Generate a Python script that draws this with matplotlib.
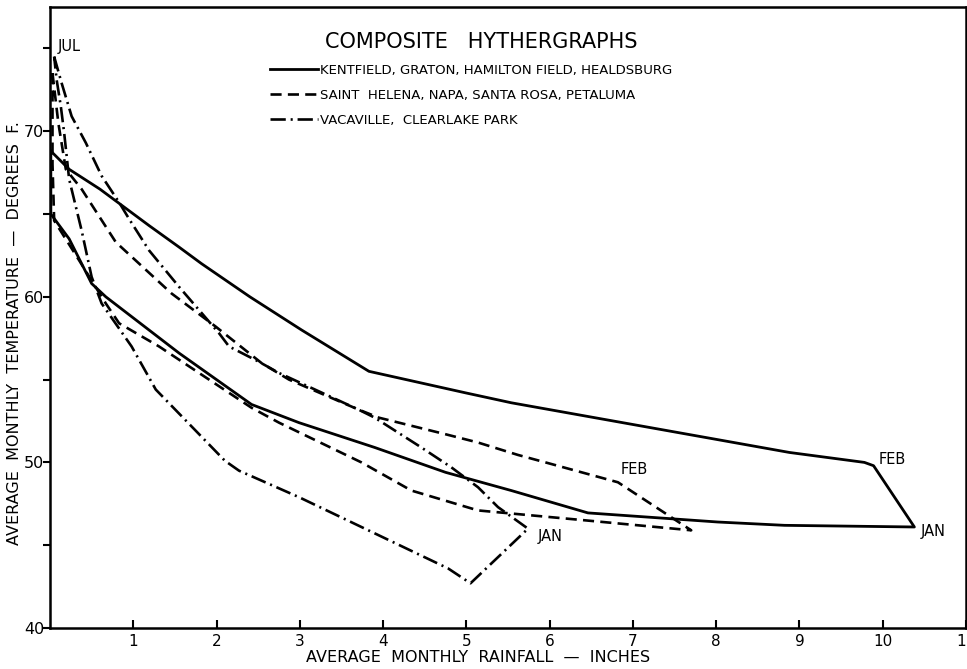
import numpy as np
import matplotlib
matplotlib.use("Agg")
import matplotlib.pyplot as plt

plt.rcParams['font.family'] = ['DejaVu Sans']
plt.rcParams['lines.scale_dashes'] = False

# rainfall (inches), temperature (deg F), traced around each hythergraph loop
kent_rain = [0.01, 0.23, 0.6, 1.19, 1.55, 1.82, 2.4, 3.02, 3.83, 4.99, 5.54, 6.43, 7.99, 8.88, 9.78, 9.89,
             10.38, 8.82, 8.02, 6.46, 5.54, 4.75, 3.9, 2.99, 2.42, 1.55, 0.67, 0.5, 0.23, 0.01, 0.01]
kent_temp = [68.8, 67.7, 66.5, 64.3, 63.0, 62.0, 60.0, 58.0, 55.5, 54.2, 53.6, 52.8, 51.4, 50.6, 50.0, 49.8,
             46.1, 46.2, 46.4, 46.95, 48.3, 49.4, 50.9, 52.4, 53.5, 56.6, 60.0, 60.8, 63.5, 65.0, 68.8]

napa_rain = [0.03, 0.1, 0.19, 0.38, 0.79, 1.46, 1.99, 2.54, 2.87, 3.7, 3.95, 4.75, 5.14, 5.62, 5.95, 6.82,
             7.70, 6.43, 5.14, 4.34, 3.74, 2.75, 2.42, 1.31, 0.83, 0.67, 0.35, 0.05, 0.03, 0.03]
napa_temp = [73.5, 70.5, 67.7, 66.5, 63.3, 60.2, 58.2, 56.0, 55.0, 53.2, 52.7, 51.7, 51.2, 50.45, 50.0, 48.8,
             45.9, 46.5, 47.1, 48.3, 50.0, 52.4, 53.3, 57.0, 58.4, 59.6, 62.2, 64.6, 68.0, 73.5]

vaca_rain = [0.05, 0.14, 0.26, 0.43, 0.62, 0.83, 0.95, 1.19, 1.55, 2.03, 2.15, 2.5, 2.75, 3.7, 3.9, 4.46,
             4.82, 5.14, 5.38, 5.74, 5.05, 4.78, 2.99, 2.27, 2.1, 1.27, 0.98, 0.62, 0.5, 0.38, 0.23,
             0.17, 0.13, 0.08, 0.05]
vaca_temp = [74.5, 72.9, 70.9, 69.3, 67.3, 65.7, 64.7, 62.8, 60.6, 57.8, 57.0, 56.1, 55.4, 53.2, 52.7, 50.9,
             49.7, 48.5, 47.3, 46.0, 42.7, 43.6, 47.9, 49.5, 50.1, 54.4, 57.0, 59.6, 61.2, 64.0, 67.1,
             69.9, 71.5, 73.1, 74.5]

series_names = ["KENTFIELD, GRATON, HAMILTON FIELD, HEALDSBURG",
                "SAINT  HELENA, NAPA, SANTA ROSA, PETALUMA",
                "VACAVILLE,  CLEARLAKE PARK"]

month_labels = ["JUL", "FEB", "JAN", "FEB", "JAN"]
month_x = [0.09, 9.95, 10.45, 6.85, 5.86]
month_y = [75.1, 50.2, 45.8, 49.6, 45.5]

x_ticks = list(range(1, 12))
x_ticklabels = ["1", "2", "3", "4", "5", "6", "7", "8", "9", "10", "1"]
y_ticks = list(range(40, 80, 5))
y_ticklabels = ["40", "", "50", "", "60", "", "70", ""]

fig = plt.figure(figsize=(9.67, 6.69), dpi=100)
ax = fig.add_axes([50/967, 1-628/669, 916/967, 621/669])

ax.plot(kent_rain, kent_temp, color='black', lw=2.0, label=series_names[0])
ax.plot(napa_rain, napa_temp, color='black', lw=1.9, linestyle=(0, (8, 4.5)), label=series_names[1])
ax.plot(vaca_rain, vaca_temp, color='black', lw=1.9, linestyle=(0, (11, 3.5, 1.5, 3.5)), label=series_names[2])

for lab, mx, my in zip(month_labels, month_x, month_y):
    ax.text(mx, my, lab, fontsize=10.5, ha='left', va='center')

ax.set_xlim(0, 10.97)
ax.set_ylim(40, 77.5)
ax.set_xticks(x_ticks)
ax.set_xticklabels(x_ticklabels, fontsize=11)
ax.get_xticklabels()[-1].set_ha('right')
ax.set_yticks(y_ticks)
ax.set_yticklabels(y_ticklabels, fontsize=11.5)
ax.tick_params(axis='x', direction='in', length=6, width=1.5, pad=4)
ax.tick_params(axis='y', direction='out', length=5, width=1.5, pad=-1)
for sp in ax.spines.values():
    sp.set_linewidth(1.8)

leg = ax.legend(loc='upper left', bbox_to_anchor=(270/967, 1-64/669), bbox_transform=fig.transFigure,
                frameon=False, fontsize=9.5, handlelength=3.6, handletextpad=0.2, labelspacing=0.9,
                borderaxespad=0, borderpad=0)
fig.text(481/967, 1-42/669, "COMPOSITE   HYTHERGRAPHS", fontsize=15, ha='center', va='center')

fig.text(478/967, 1-657/669, "AVERAGE  MONTHLY  RAINFALL  \u2014  INCHES", fontsize=11.5, ha='center', va='center')
fig.text(15/967, 1-333/669, "AVERAGE  MONTHLY  TEMPERATURE  \u2014  DEGREES  F.", fontsize=11.5,
         rotation=90, ha='center', va='center')

plt.savefig("out.png", dpi=100)
